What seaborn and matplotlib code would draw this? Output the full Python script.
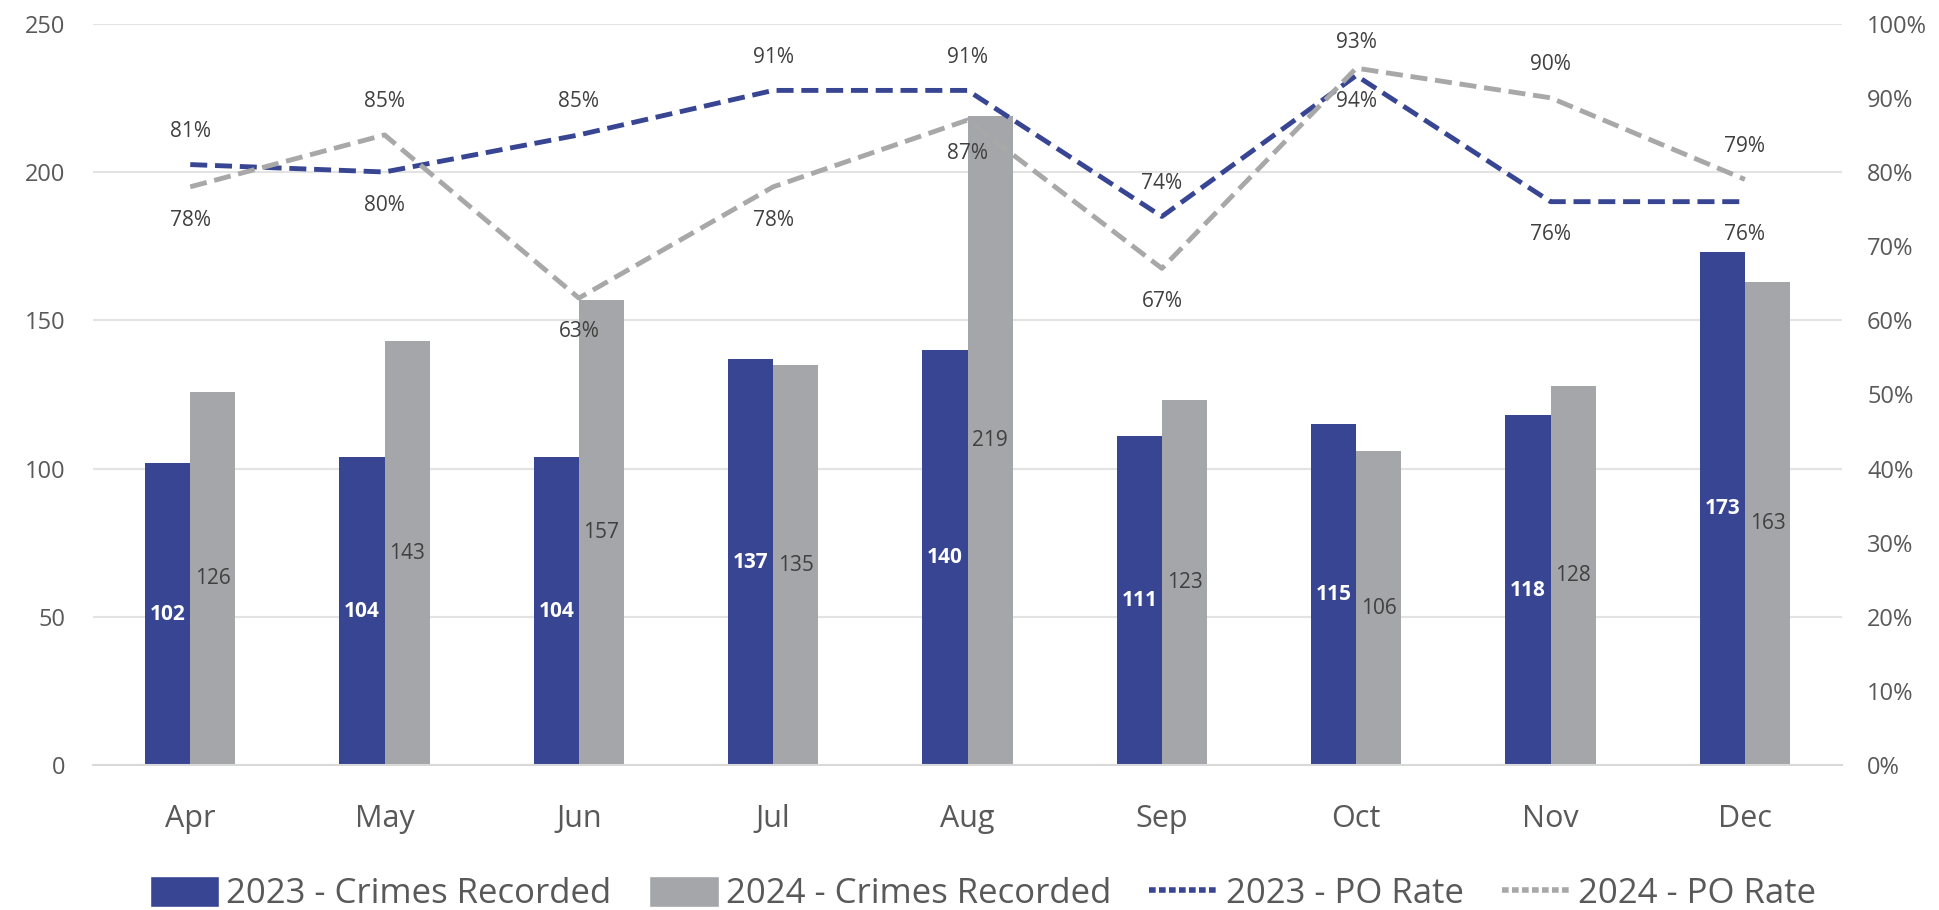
import pandas as pd
import matplotlib.pyplot as plt
import seaborn as sns
from matplotlib.lines import Line2D
from matplotlib.patches import Patch

months = ["Apr", "May", "Jun", "Jul", "Aug", "Sep", "Oct", "Nov", "Dec"]
crimes_2023 = [102, 104, 104, 137, 140, 111, 115, 118, 173]
crimes_2024 = [126, 143, 157, 135, 219, 123, 106, 128, 163]
po_rate_2023 = [81, 80, 85, 91, 91, 74, 93, 76, 76]
po_rate_2024 = [78, 85, 63, 78, 87, 67, 94, 90, 79]

BLUE = "#374592"
GREY = "#A5A6A9"
LGREY = "#A8A8A8"
TXT = "#595959"

sns.set_theme(style="white")
plt.rcParams["font.family"] = ["Open Sans", "DejaVu Sans"]

df = pd.DataFrame({
    "month": months * 2,
    "crimes": crimes_2023 + crimes_2024,
    "series": ["2023 - Crimes Recorded"] * 9 + ["2024 - Crimes Recorded"] * 9,
})

fig = plt.figure(figsize=(19.39, 9.10), dpi=100)
ax = fig.add_axes([0.048, 0.159, 0.902, 0.815])

sns.barplot(data=df, x="month", y="crimes", hue="series", palette=[BLUE, GREY],
            width=0.465, gap=0, ax=ax, legend=False, saturation=1, linewidth=0)
ax.set_ylim(0, 250)
ax.set_xlim(-0.5, 8.5)
ax.set_yticks(range(0, 251, 50))
ax.yaxis.grid(True, color="#E3E3E3", linewidth=1.5)
ax.set_axisbelow(True)
for s in ["top", "right", "left"]:
    ax.spines[s].set_visible(False)
ax.spines["bottom"].set_color("#D9D9D9")
ax.spines["bottom"].set_linewidth(1.5)
ax.set_xlabel("")
ax.set_ylabel("")
ax.tick_params(axis="y", labelsize=17, colors=TXT, length=0, pad=20)
ax.tick_params(axis="x", labelsize=22, colors=TXT, length=0, pad=28)

# bar labels in the middle of each bar
ax.bar_label(ax.containers[0], label_type="center", color="white", fontsize=15, fontweight="bold")
ax.bar_label(ax.containers[1], label_type="center", color="#404040", fontsize=15)

ax2 = ax.twinx()
x = list(range(len(months)))
ax2.plot(x, po_rate_2023, color=BLUE, linestyle=(0, (3.5, 1.6)), linewidth=3.5)
ax2.plot(x, po_rate_2024, color=LGREY, linestyle=(0, (3.5, 1.6)), linewidth=3.5)
ax2.set_ylim(0, 100)
ax2.set_yticks(range(0, 101, 10))
ax2.set_yticklabels([f"{v}%" for v in range(0, 101, 10)])
ax2.tick_params(axis="y", labelsize=17, colors=TXT, length=0, pad=18)
for s in ["top", "right", "left", "bottom"]:
    ax2.spines[s].set_visible(False)

for i in x:
    blue_up = po_rate_2023[i] >= po_rate_2024[i] - 2
    off = 24
    ax2.annotate(f"{po_rate_2023[i]}%", (i, po_rate_2023[i]), xytext=(0, off if blue_up else -off),
                 textcoords="offset points", ha="center", va="center", fontsize=15, color="#404040")
    ax2.annotate(f"{po_rate_2024[i]}%", (i, po_rate_2024[i]), xytext=(0, -off if blue_up else off),
                 textcoords="offset points", ha="center", va="center", fontsize=15, color="#404040")

handles = [
    Patch(facecolor=BLUE, label="2023 - Crimes Recorded"),
    Patch(facecolor=GREY, label="2024 - Crimes Recorded"),
    Line2D([0], [0], color=BLUE, linestyle=(0, (1.2, 0.6)), linewidth=4, label="2023 - PO Rate"),
    Line2D([0], [0], color=LGREY, linestyle=(0, (1.2, 0.6)), linewidth=4, label="2024 - PO Rate"),
]
fig.legend(handles=handles, loc="center", bbox_to_anchor=(0.507, 0.018), ncol=4, frameon=False,
           fontsize=25, labelcolor=TXT, handlelength=2.0, handleheight=1.0, handletextpad=0.2,
           columnspacing=1.1)

plt.savefig("out.png", dpi=100)
